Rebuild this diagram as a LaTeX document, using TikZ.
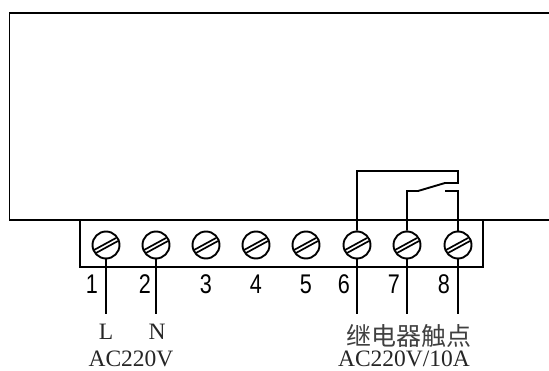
\documentclass[tikz,border=0pt]{standalone}
\usepackage{fontspec}
\setmainfont{Liberation Serif}
\newfontfamily\cjk{Noto Sans CJK SC}
\newfontfamily\numf[FakeStretch=0.8]{Liberation Sans}
\begin{document}
\begin{tikzpicture}[x=1pt,y=-1pt,
  wire/.style={line width=1.9pt,black},
  screw/.style={circle,draw,line width=1.9pt,minimum size=27pt,inner sep=0pt},
  num/.style={font=\fontsize{27}{27}\numf,inner sep=0pt,text=black},
  lab/.style={font=\fontsize{23.5}{23.5}\selectfont,inner sep=0pt,text=black!85}]
\useasboundingbox (0,0) rectangle (549,371);
\draw[wire] (549,13) -- (9.5,13) -- (9.5,220) -- (549,220);
\draw[wire] (80,220) -- (80,267) -- (483,267) -- (483,220);
\foreach \n/\x/\d/\dx in {a/106/1/-14,b/156/2/-11,c/206/3/0,d/256/4/0,e/306/5/0,f/357/6/-13,g/407/7/-13,h/458/8/-14}{
  \node[screw] (s\n) at (\x,245) {};
  \draw[line width=1.7pt] (\x-12,250) -- (\x+10,238);
  \draw[line width=1.7pt] (\x-10,253) -- (\x+12,241);
  \node[num] (n\n) at (\x+\dx,284) {\d};
}
\foreach \n/\x in {a/106,b/156,f/357,g/407,h/458}{
  \coordinate (e\n) at (\x,314);
  \draw[wire] (s\n.south) -- (e\n);
}
\coordinate (t1) at (357,171);
\coordinate (t2) at (458,171);
\coordinate (t3) at (458,183);
\coordinate (t4) at (445,183);
\coordinate (k1) at (407,191);
\coordinate (k2) at (418,191);
\coordinate (c1) at (445,191);
\coordinate (c2) at (458,191);
\draw[wire] (sf.north) -- (t1) -- (t2) -- (t3) -- (t4) -- (k2) -- (k1) -- (sg.north);
\draw[wire] (c1) -- (c2) -- (sh.north);
\node[lab] (l) at (106,332) {L};
\node[lab] (r) at (157,332) {N};
\node[lab] (ac) at (131,358.5) {AC220V};
\node[inner sep=0pt,font=\fontsize{25}{25}\cjk,text=black!75] (k) at (409,336) {继电器触点};
\node[lab] (v) at (404,358.5) {AC220V/10A};
\end{tikzpicture}
\end{document}
